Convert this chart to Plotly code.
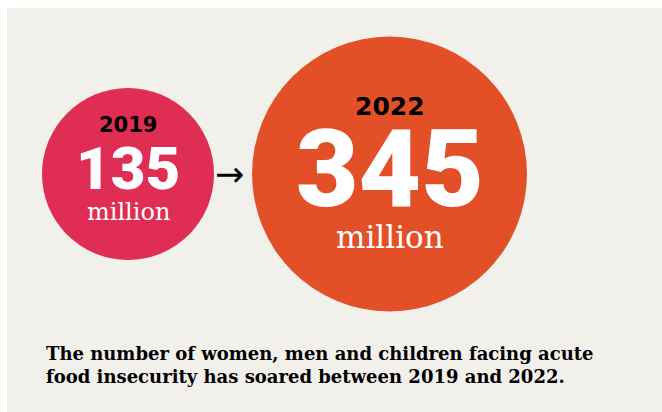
import plotly.graph_objects as go

# ---- data ----
years = ["2019", "2022"]
people_millions = [135, 345]
value_labels = ["135", "345"]
unit_label = "million"
caption_lines = [
    "The number of women, men and children facing acute",
    "food insecurity has soared between 2019 and 2022.",
]
circle_colors = ["#e02d54", "#e35028"]

# ---- layout constants (pixels) ----
W, H = 662, 412
BG = "#f2f0eb"
CY = 174                     # circle centre row (px from top)
X0_PX, STEP_PX = 128, 261.5  # centre of first category, spacing
SMALL_DIAM = 172             # diameter for the first value
sizeref = 2 * people_millions[0] / SMALL_DIAM ** 2

def py(p):
    """pixel-from-top -> paper y"""
    return 1 - p / H

fig = go.Figure()
fig.add_trace(go.Scatter(
    x=years,
    y=[0, 0],
    mode="markers",
    marker=dict(size=people_millions, sizemode="area", sizeref=sizeref,
                color=circle_colors, line=dict(width=0), opacity=1),
    hoverinfo="skip",
    cliponaxis=False,
    showlegend=False,
))

# per-circle text styling
styles = [
    dict(yr=21, yr_y=125, val=60, val_y=168, un=24, un_y=212),
    dict(yr=25, yr_y=106.5, val=108, val_y=169, un=31, un_y=237),
]
ann = []
for i, (yr, lab, st) in enumerate(zip(years, value_labels, styles)):
    ann.append(dict(x=i, xref="x", y=py(st["yr_y"]), yref="paper", text=f"<b>{yr}</b>",
                    showarrow=False, xanchor="center", yanchor="middle",
                    font=dict(family="DejaVu Sans", size=st["yr"], color="#000000")))
    ann.append(dict(x=i, xref="x", y=py(st["val_y"]), yref="paper", text=lab,
                    showarrow=False, xanchor="center", yanchor="middle",
                    font=dict(family="Roboto", size=st["val"], color="#ffffff",
                              weight=900)))
    ann.append(dict(x=i, xref="x", y=py(st["un_y"]), yref="paper", text=unit_label,
                    showarrow=False, xanchor="center", yanchor="middle",
                    font=dict(family="DejaVu Serif", size=st["un"], color="#ffffff")))

# arrow between circles
ann.append(dict(x=229 / W, xref="paper", y=py(CY), yref="paper", text="→",
                showarrow=False, xanchor="center", yanchor="middle",
                font=dict(family="DejaVu Sans", size=35, color="#000000")))

# caption
ann.append(dict(x=44 / W, xref="paper", y=py(365), yref="paper",
                text="<b>" + "<br>".join(caption_lines) + "</b>",
                showarrow=False, xanchor="left", yanchor="middle", align="left",
                font=dict(family="DejaVu Serif", size=18, color="#000000")))

fig.update_layout(
    width=W, height=H,
    margin=dict(l=0, r=0, t=0, b=0),
    paper_bgcolor="#ffffff",
    plot_bgcolor="rgba(0,0,0,0)",
    xaxis=dict(type="category", range=[-X0_PX / STEP_PX, (W - X0_PX) / STEP_PX],
               visible=False, fixedrange=True),
    yaxis=dict(range=[-(H - CY), CY], visible=False, fixedrange=True),
    shapes=[dict(type="rect", xref="paper", yref="paper", x0=7 / W, x1=1,
                 y0=0, y1=py(8), fillcolor=BG, line=dict(width=0), layer="below")],
    annotations=ann,
)

fig.write_html("out.html", config=dict(displayModeBar=False),
               post_script="document.body.style.margin='0';")
